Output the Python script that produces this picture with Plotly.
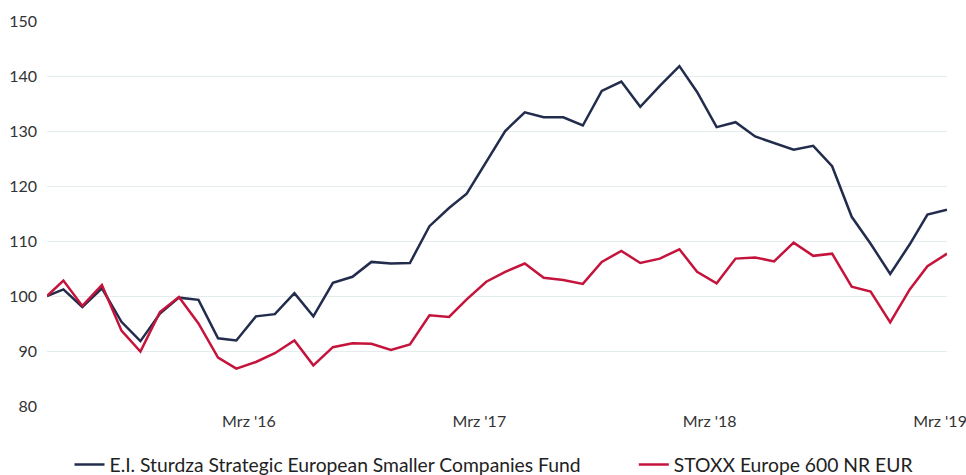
import plotly.graph_objects as go
import pandas as pd

# Dates: first observation, then month-ends May 2015 .. Mar 2019
dates = ["2015-05-05"] + [d.strftime("%Y-%m-%d") for d in pd.date_range("2015-05-31", "2019-03-31", freq="ME")]

fund = [100.0, 101.2, 98.0, 101.4, 95.3, 91.8, 96.8, 99.7, 99.3, 92.3,
        91.9, 96.3, 96.7, 100.5, 96.3, 102.4, 103.5, 106.2, 105.9, 106.0,
        112.7, 116.0, 118.6, 124.5, 130.0, 133.4, 132.5, 132.5, 131.0, 137.3,
        139.0, 134.4, 138.2, 141.8, 137.1, 130.7, 131.6, 129.0, 127.8, 126.6,
        127.3, 123.6, 114.4, 109.5, 104.0, 109.4, 114.8, 115.7]

index = [100.0, 102.8, 98.2, 102.0, 93.7, 89.9, 97.1, 99.8, 95.0, 88.8,
         86.8, 88.0, 89.6, 91.9, 87.4, 90.7, 91.4, 91.3, 90.2, 91.2,
         96.5, 96.2, 99.4, 102.6, 104.4, 105.9, 103.3, 102.9, 102.2, 106.2,
         108.2, 106.0, 106.8, 108.5, 104.4, 102.3, 106.8, 107.0, 106.3, 109.7,
         107.3, 107.7, 101.7, 100.8, 95.2, 101.2, 105.4, 107.7]

names = ["E.I. Sturdza Strategic European Smaller Companies Fund", "STOXX Europe 600 NR EUR"]
colors = ["#222c4c", "#c4143c"]

tick_vals = ["2016-03-20", "2017-03-20", "2018-03-20", "2019-03-20"]
tick_text = ["Mrz '16", "Mrz '17", "Mrz '18", "Mrz '19"]
y_ticks = [80, 90, 100, 110, 120, 130, 140, 150]

fig = go.Figure()
for i, (name, vals, col) in enumerate(zip(names, [fund, index], colors)):
    fig.add_trace(go.Scatter(x=dates, y=vals, mode="lines", name=name,
                             line=dict(color=col, width=2.5),
                             legend="legend" if i == 0 else "legend2"))

leg_font = dict(family="Liberation Sans Narrow, Lato, sans-serif", size=19.3, color="#222222")
fig.update_layout(
    width=966, height=475,
    margin=dict(l=47, r=19, t=21, b=69, autoexpand=False),
    paper_bgcolor="white", plot_bgcolor="white",
    font=dict(family="Lato, Open Sans, sans-serif", size=16, color="#333333"),
    showlegend=True,
    legend=dict(orientation="h", x=0.025, xanchor="left", y=-0.153, yanchor="middle",
                font=leg_font, itemwidth=30),
    legend2=dict(orientation="h", x=0.652, xanchor="left", y=-0.153, yanchor="middle",
                 font=leg_font, itemwidth=30),
)
fig.update_xaxes(type="date", range=[dates[0], dates[-1]], tickvals=tick_vals, ticktext=tick_text,
                 showgrid=False, zeroline=False, showline=False, ticks="", automargin=False,
                 ticklabeloverflow="allow", ticklabelstandoff=4,
                 tickfont=dict(size=16, color="#333333"))
fig.update_yaxes(range=[80, 150], tickvals=y_ticks, showgrid=True, gridcolor="#e4ecee", gridwidth=1,
                 zeroline=False, showline=False, ticks="", ticklabelstandoff=9, automargin=False,
                 tickfont=dict(size=16, color="#333333"))

fig.write_html("out.html", config={"displayModeBar": False},
               post_script="document.body.style.margin='0';")
